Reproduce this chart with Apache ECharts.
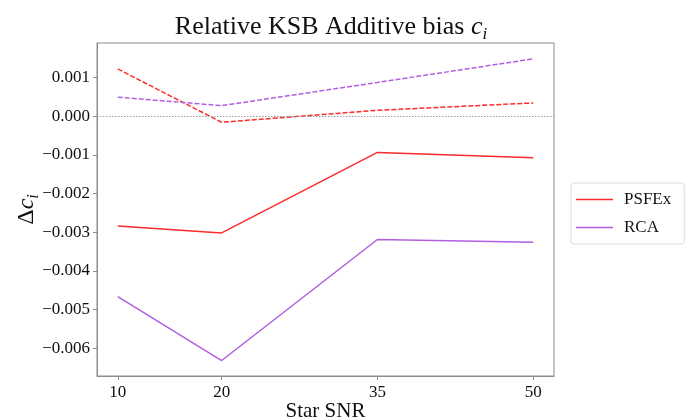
<!DOCTYPE html>
<html>
<head>
<meta charset="utf-8">
<script src="https://cdn.jsdelivr.net/npm/echarts@6/dist/echarts.min.js"></script>
<style>
  html, body { margin: 0; padding: 0; background: #fff; }
  #chart { width: 692px; height: 420px; }
</style>
</head>
<body>
<div id="chart"></div>
<script>
// Star signal-to-noise ratios on the x axis
const snr = [10, 20, 35, 50];
// Additive bias, solid lines (first component)
const psfexSolid = [-0.00284, -0.00302, -0.00094, -0.00108];
const rcaSolid = [-0.00467, -0.00632, -0.00319, -0.00326];
// Additive bias, dashed lines (second component)
const psfexDashed = [0.00122, -0.00016, 0.00015, 0.00034];
const rcaDashed = [0.00049, 0.00027, 0.00087, 0.00148];
// Tick positions
const xTicks = [10, 20, 35, 50];
const yTicks = [-0.006, -0.005, -0.004, -0.003, -0.002, -0.001, 0.000, 0.001];

const RED = '#ff2a2a';
const PURPLE = '#b15fe0';
const FONT = 'Liberation Serif';
const AXIS_GREY = '#8c8c8c';

const pairs = ys => snr.map((x, i) => [x, ys[i]]);
const fmtY = v => {
  const s = Math.abs(v).toFixed(3);
  return (v < -1e-9 ? '\u2212' : '') + s;
};

const chart = echarts.init(document.getElementById('chart'), null, { renderer: 'canvas' });

const lineSeries = (name, data, color, dashed) => ({
  name,
  type: 'line',
  data: pairs(data),
  showSymbol: false,
  symbol: 'none',
  silent: true,
  animation: false,
  lineStyle: { color, width: 1.5, type: dashed ? [5, 2] : 'solid' },
  itemStyle: { color }
});

chart.setOption({
  animation: false,
  backgroundColor: '#fff',
  textStyle: { fontFamily: FONT },
  title: {
    text: 'Relative KSB Additive bias {it|c}{sub|i}',
    left: 326, textAlign: 'center', top: 9,
    textStyle: {
      fontFamily: FONT, fontSize: 26, fontWeight: 'normal', color: '#111',
      rich: {
        it: { fontFamily: FONT, fontSize: 26, fontStyle: 'italic', color: '#111' },
        sub: { fontFamily: FONT, fontSize: 17, fontStyle: 'italic', color: '#111', verticalAlign: 'bottom', padding: [0, 0, -3, 0] }
      }
    }
  },
  legend: {
    data: ['PSFEx', 'RCA'],
    left: 571, top: 183,
    orient: 'vertical',
    icon: 'rect',
    itemWidth: 37, itemHeight: 1.5,
    itemGap: 11,
    padding: [8, 13, 8, 5],
    backgroundColor: '#fff',
    borderColor: '#dcdcdc', borderWidth: 1, borderRadius: 3,
    textStyle: { fontFamily: FONT, fontSize: 17, color: '#111', padding: [0, 0, 0, 6] }
  },
  grid: {
    left: 97, right: 138, top: 43, bottom: 44,
    containLabel: false,
    outerBoundsMode: 'none',
    show: true, borderColor: AXIS_GREY, borderWidth: 1, backgroundColor: 'transparent'
  },
  xAxis: {
    type: 'value', min: 8, max: 52,
    name: 'Star SNR', nameLocation: 'middle', nameGap: 25, nameMoveOverlap: false,
    nameTextStyle: { fontFamily: FONT, fontSize: 21, color: '#111' },
    axisLine: { show: true, onZero: false, lineStyle: { color: AXIS_GREY } },
    axisTick: { show: true, length: 4, customValues: xTicks, lineStyle: { color: AXIS_GREY } },
    axisLabel: { customValues: xTicks, margin: 8, fontFamily: FONT, fontSize: 17, color: '#111' },
    splitLine: { show: false }
  },
  yAxis: {
    type: 'value', min: -0.00672, max: 0.00189,
    name: '\u0394{it|c}{sub|i}', nameLocation: 'middle', nameGap: 58, nameRotate: 90, nameMoveOverlap: false,
    nameTextStyle: {
      fontFamily: FONT, fontSize: 24, color: '#111',
      rich: {
        it: { fontFamily: FONT, fontSize: 24, fontStyle: 'italic', color: '#111' },
        sub: { fontFamily: FONT, fontSize: 16, fontStyle: 'italic', color: '#111', verticalAlign: 'bottom', padding: [0, 0, -3, 0] }
      }
    },
    axisLine: { show: true, onZero: false, lineStyle: { color: AXIS_GREY } },
    axisTick: { show: true, length: 4, customValues: yTicks, lineStyle: { color: AXIS_GREY } },
    axisLabel: { customValues: yTicks, margin: 7, fontFamily: FONT, fontSize: 17, color: '#111', formatter: fmtY },
    splitLine: { show: false }
  },
  series: [
    Object.assign(lineSeries('PSFEx', psfexSolid, RED, false), {
      markLine: {
        silent: true, symbol: 'none', animation: false,
        label: { show: false },
        lineStyle: { color: '#9a9a9a', width: 1, type: [1.5, 1.5] },
        data: [{ yAxis: 0 }]
      }
    }),
    lineSeries('RCA', rcaSolid, PURPLE, false),
    lineSeries('PSFEx', psfexDashed, RED, true),
    lineSeries('RCA', rcaDashed, PURPLE, true)
  ]
});
</script>
</body>
</html>
